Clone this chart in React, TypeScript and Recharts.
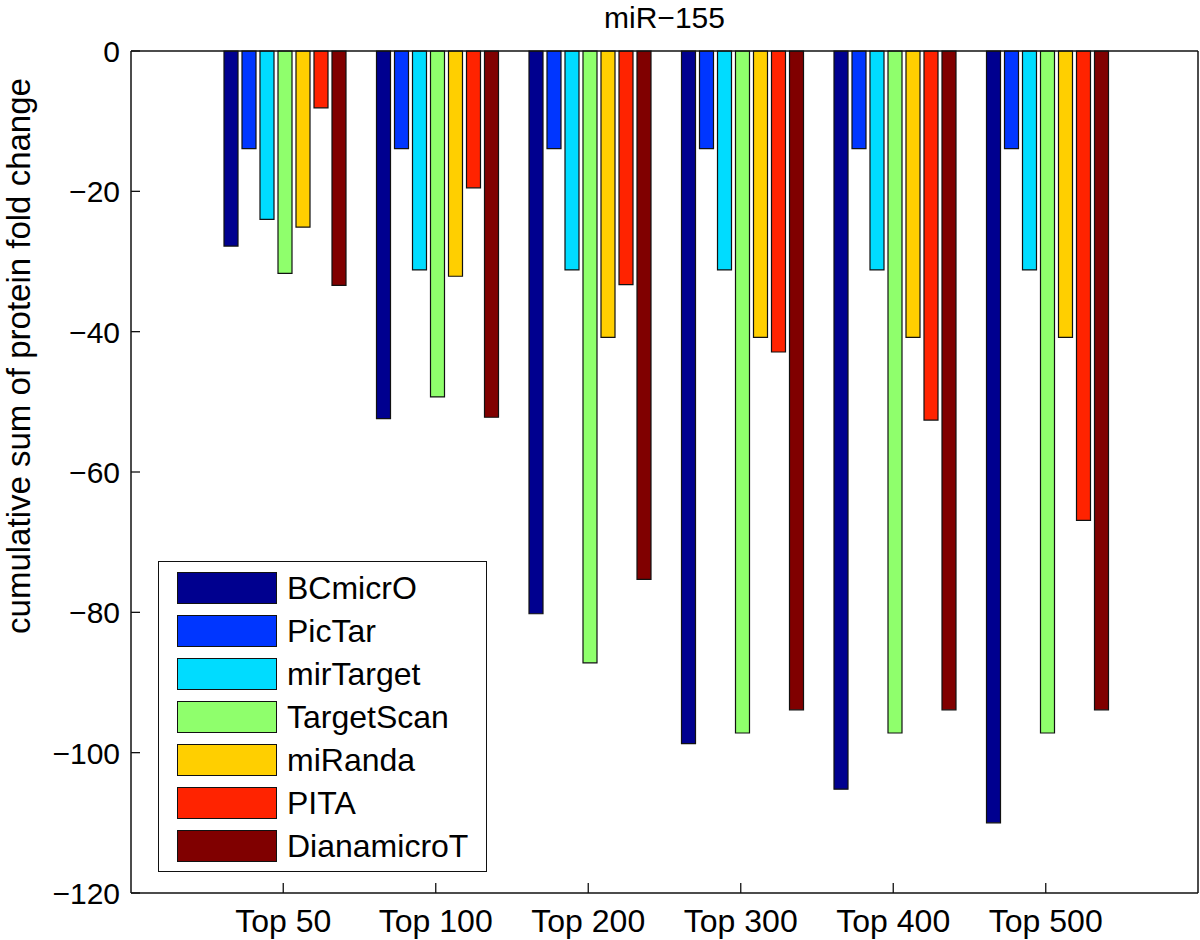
import React from "react";
import { BarChart, Bar, XAxis, YAxis, Legend } from "recharts";

// ─── Data ────────────────────────────────────────────────
const CATEGORIES = ["Top 50", "Top 100", "Top 200", "Top 300", "Top 400", "Top 500"];

const BCMICRO = [-27.8, -52.4, -80.2, -98.7, -105.2, -110.0];
const PICTAR = [-13.9, -13.9, -13.9, -13.9, -13.9, -13.9];
const MIRTARGET = [-24.0, -31.2, -31.2, -31.2, -31.2, -31.2];
const TARGETSCAN = [-31.7, -49.3, -87.2, -97.2, -97.2, -97.2];
const MIRANDA = [-25.1, -32.1, -40.8, -40.8, -40.8, -40.8];
const PITA = [-8.1, -19.5, -33.3, -42.9, -52.6, -66.9];
const DIANAMICROT = [-33.4, -52.2, -75.3, -93.9, -93.9, -93.9];

const Y_TICKS = [-120, -100, -80, -60, -40, -20, 0];

const SERIES = [
  { key: "BCmicrO", values: BCMICRO, color: "#00008f" },
  { key: "PicTar", values: PICTAR, color: "#0036ff" },
  { key: "mirTarget", values: MIRTARGET, color: "#00dcff" },
  { key: "TargetScan", values: TARGETSCAN, color: "#8fff6c" },
  { key: "miRanda", values: MIRANDA, color: "#ffcf00" },
  { key: "PITA", values: PITA, color: "#ff2300" },
  { key: "DianamicroT", values: DIANAMICROT, color: "#800000" },
];

const data = CATEGORIES.map((cat, i) => {
  const row: Record<string, number | string> = { cat };
  SERIES.forEach(s => { row[s.key] = s.values[i]; });
  return row;
});

// ─── Styles ──────────────────────────────────────────────
const FONT = "'Liberation Sans', Arial, Helvetica, sans-serif";
const INK = "#111";
const fmt = (v: number) => (v < 0 ? "\u2212" + Math.abs(v) : String(v));

// ─── Ticks (MATLAB style, pointing inward) ───────────────
function LeftTick({ x, y, payload }: any) {
  return (
    <g>
      <line x1={x} x2={x + 9} y1={y} y2={y} stroke={INK} strokeWidth={1.3} />
      <text x={x - 11} y={y} dy={11} textAnchor="end" fontSize={30} fontFamily={FONT} fill="#000">
        {fmt(payload.value)}
      </text>
    </g>
  );
}

function RightTick({ x, y }: any) {
  return <line x1={x} x2={x - 9} y1={y} y2={y} stroke={INK} strokeWidth={1.3} />;
}

function BottomTick({ x, y, payload }: any) {
  return (
    <g>
      <line x1={x} x2={x} y1={y} y2={y - 10} stroke={INK} strokeWidth={1.3} />
      <text x={x} y={y + 39} textAnchor="middle" fontSize={32} fontFamily={FONT} fill="#000">
        {payload.value}
      </text>
    </g>
  );
}

function TitleLabel({ viewBox }: any) {
  const cx = viewBox ? viewBox.x + viewBox.width / 2 : 664;
  return (
    <text x={cx} y={28} textAnchor="middle" fontSize={30} fontFamily={FONT} fill="#000">
      miR{"\u2212"}155
    </text>
  );
}

function YTitle() {
  return (
    <text
      x={30}
      y={356}
      transform="rotate(-90, 30, 356)"
      textAnchor="middle"
      fontSize={33}
      fontFamily={FONT}
      fill="#000"
    >
      cumulative sum of protein fold change
    </text>
  );
}

// ─── Legend ──────────────────────────────────────────────
function LegendBox() {
  return (
    <div style={{
      boxSizing: "border-box",
      width: 329,
      height: 311,
      border: `1.5px solid ${INK}`,
      background: "#fff",
      padding: "9.5px 0 0 18px",
      fontFamily: FONT,
    }}>
      {SERIES.map(s => (
        <div key={s.key} style={{ display: "flex", alignItems: "center", height: 32, marginBottom: 11 }}>
          <span style={{
            boxSizing: "border-box",
            width: 100,
            height: 32,
            background: s.color,
            border: `1.5px solid ${INK}`,
          }} />
          <span style={{ marginLeft: 10, fontSize: 32, color: "#000", lineHeight: "32px" }}>{s.key}</span>
        </div>
      ))}
    </div>
  );
}

export default function App() {
  return (
    <div style={{ position: "absolute", left: 0, top: 0, width: 1200, height: 940, background: "#fff" }}>
      <BarChart
        width={1200}
        height={940}
        data={data}
        margin={{ top: 0, right: 0, bottom: 0, left: 0 }}
        barCategoryGap={17}
        barGap={4}
      >
        <XAxis
          xAxisId="bottom"
          dataKey="cat"
          orientation="bottom"
          height={47}
          padding={{ left: 76, right: 76 }}
          axisLine={{ stroke: INK, strokeWidth: 1.5 }}
          tickLine={false}
          tickSize={0}
          tickMargin={0}
          tick={<BottomTick />}
          interval={0}
        />
        <XAxis
          xAxisId="top"
          dataKey="cat"
          orientation="top"
          height={51}
          padding={{ left: 76, right: 76 }}
          axisLine={{ stroke: INK, strokeWidth: 1.5 }}
          tickLine={false}
          tick={false}
          label={<TitleLabel />}
        />
        <YAxis
          yAxisId="left"
          orientation="left"
          width={131}
          domain={[-120, 0]}
          ticks={Y_TICKS}
          axisLine={{ stroke: INK, strokeWidth: 1.5 }}
          tickLine={false}
          tickSize={0}
          tickMargin={0}
          tick={<LeftTick />}
          interval={0}
          label={<YTitle />}
        />
        <YAxis
          yAxisId="right"
          orientation="right"
          width={2}
          domain={[-120, 0]}
          ticks={Y_TICKS}
          axisLine={{ stroke: INK, strokeWidth: 1.5 }}
          tickLine={false}
          tickSize={0}
          tickMargin={0}
          tick={<RightTick />}
          interval={0}
        />
        <Legend
          layout="vertical"
          align="center"
          verticalAlign="middle"
          content={<LegendBox />}
          wrapperStyle={{ left: 158, top: 561, width: 329, height: 311 }}
        />
        {SERIES.map(s => (
          <Bar
            key={s.key}
            dataKey={s.key}
            name={s.key}
            xAxisId="bottom"
            yAxisId="left"
            fill={s.color}
            stroke={INK}
            strokeWidth={1.2}
            isAnimationActive={false}
          />
        ))}
      </BarChart>
    </div>
  );
}
